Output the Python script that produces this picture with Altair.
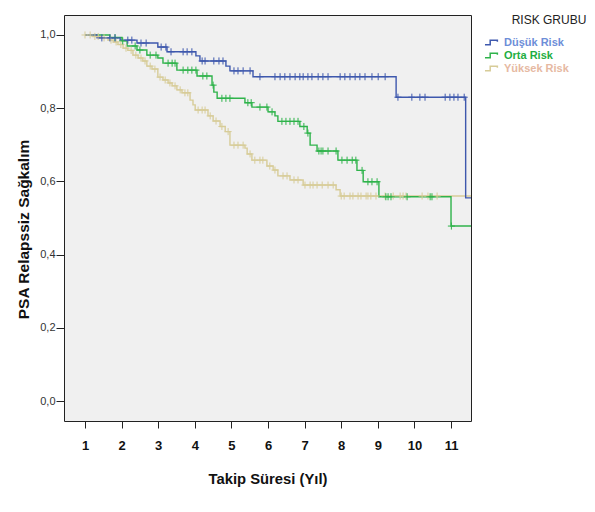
import altair as alt
import pandas as pd

groups = ["Düşük Risk", "Orta Risk", "Yüksek Risk"]
line_colors = ["#3e58ad", "#2fb34b", "#d7cc98"]
label_colors = ["#6d8ed8", "#1eae42", "#e6b9a2"]

x_ticks = [1, 2, 3, 4, 5, 6, 7, 8, 9, 10, 11]
y_ticks = [0.0, 0.2, 0.4, 0.6, 0.8, 1.0]
end_time = 11.55

# Düşük Risk
low_times = [1.0, 1.33, 1.96, 2.42, 2.99, 3.24, 4.03, 4.14, 4.85, 4.96, 5.59, 9.50, 11.40]
low_surv = [1.0, 0.992, 0.986, 0.978, 0.967, 0.954, 0.943, 0.929, 0.915, 0.902, 0.886, 0.830, 0.555]
low_censor = [1.46, 1.68, 1.82, 2.17, 2.28, 2.53, 2.67, 3.08, 3.21, 3.35, 3.68, 3.79, 3.92,
              4.20, 4.28, 4.52, 4.66, 4.77, 5.07, 5.18, 5.32, 5.51, 5.78, 6.19, 6.33, 6.46,
              6.60, 6.74, 6.87, 6.96, 7.09, 7.20, 7.37, 7.50, 7.64, 7.97, 8.10, 8.24, 8.38,
              8.51, 8.65, 8.84, 9.01, 9.20, 9.55, 9.93, 10.15, 10.29, 10.84, 10.97, 11.08,
              11.19, 11.36]

# Orta Risk
mid_times = [1.0, 1.68, 2.01, 2.15, 2.42, 2.69, 2.99, 3.13, 3.51, 4.06, 4.47, 4.52, 4.61,
             5.37, 5.56, 6.00, 6.19, 6.27, 6.87, 7.07, 7.15, 7.34, 7.91, 8.43, 8.60, 9.03, 11.00]
mid_surv = [1.0, 0.993, 0.984, 0.970, 0.959, 0.945, 0.937, 0.923, 0.904, 0.888, 0.863, 0.844,
            0.827, 0.815, 0.803, 0.790, 0.779, 0.764, 0.750, 0.732, 0.699, 0.683, 0.658, 0.630,
            0.599, 0.558, 0.478]
mid_censor = [1.82, 2.03, 2.37, 2.50, 2.78, 2.94, 3.27, 3.38, 3.46, 3.68, 3.81, 3.92, 4.03,
              4.22, 4.33, 4.50, 4.74, 4.85, 4.96, 5.45, 5.54, 5.78, 5.97, 6.11, 6.38, 6.49,
              6.60, 6.71, 6.82, 6.98, 7.09, 7.39, 7.45, 7.50, 7.64, 7.86, 8.02, 8.16, 8.30,
              8.40, 8.57, 8.73, 8.84, 8.98, 9.22, 9.28, 9.36, 9.80, 10.43, 10.48, 11.01]

# Yüksek Risk
high_times = [1.0, 1.22, 1.41, 1.63, 1.77, 1.90, 2.04, 2.17, 2.31, 2.45, 2.58, 2.69, 2.83,
              2.99, 3.13, 3.27, 3.38, 3.51, 3.65, 3.87, 3.95, 4.01, 4.36, 4.50, 4.69, 4.83,
              4.96, 5.37, 5.43, 5.56, 5.97, 6.14, 6.27, 6.60, 6.96, 7.86, 7.97]
high_surv = [1.0, 0.996, 0.992, 0.986, 0.981, 0.974, 0.964, 0.958, 0.945, 0.937, 0.929, 0.915,
             0.907, 0.885, 0.877, 0.869, 0.861, 0.850, 0.842, 0.822, 0.809, 0.795, 0.779, 0.765,
             0.750, 0.736, 0.699, 0.691, 0.675, 0.658, 0.642, 0.631, 0.615, 0.604, 0.590, 0.577,
             0.560]
high_censor = [1.00, 1.14, 1.27, 1.36, 1.52, 1.71, 1.85, 1.98, 2.12, 2.26, 2.39, 2.53, 2.64,
               2.78, 2.91, 3.05, 3.19, 3.32, 3.46, 3.60, 3.73, 3.81, 4.09, 4.20, 4.28, 4.42,
               4.58, 4.74, 4.91, 5.07, 5.18, 5.32, 5.51, 5.64, 5.78, 5.86, 6.05, 6.19, 6.41,
               6.52, 6.71, 6.82, 7.01, 7.15, 7.23, 7.34, 7.48, 7.64, 7.78, 8.00, 8.08, 8.24,
               8.32, 8.46, 8.54, 8.68, 8.73, 8.81, 8.95, 9.20, 9.42, 9.61, 9.69, 9.77, 10.21,
               10.37, 10.62]

series = [
    ("Yüksek Risk", high_times, high_surv, high_censor),
    ("Orta Risk", mid_times, mid_surv, mid_censor),
    ("Düşük Risk", low_times, low_surv, low_censor),
]

line_rows, cens_rows = [], []
for name, ts, ss, cs in series:
    for t, s in zip(ts, ss):
        line_rows.append({"grp": name, "t": t, "s": s})
    line_rows.append({"grp": name, "t": end_time, "s": ss[-1]})
    for c in cs:
        s_at = [s for t, s in zip(ts, ss) if t <= c][-1]
        cens_rows.append({"grp": name, "t": c, "s": s_at})

lines_df = pd.DataFrame(line_rows)
cens_df = pd.DataFrame(cens_rows)

x_scale = alt.Scale(domain=[0.426, 11.546], nice=False, zero=False)
y_scale = alt.Scale(domain=[-0.0546, 1.0546], nice=False, zero=False)
color_scale = alt.Scale(domain=groups, range=line_colors)

x_axis = alt.Axis(values=x_ticks, title="Takip Süresi (Yıl)", grid=False, domain=False,
                  tickSize=7, tickColor="#222", labelFont="Arial", labelFontSize=13,
                  labelFontWeight="bold", labelColor="#111", labelPadding=11,
                  titleFont="Arial", titleFontSize=14.8, titleFontWeight="bold",
                  titleColor="#111", titlePadding=19)
y_axis = alt.Axis(values=y_ticks, labelExpr="replace(format(datum.value, '.1f'), '.', ',')",
                  title="PSA Relapssiz Sağkalım", grid=False, domain=False, tickSize=8,
                  tickColor="#222", labelFont="Arial", labelFontSize=11, labelColor="#333",
                  labelPadding=1, titleFont="Arial", titleFontSize=15.5, titleFontWeight="bold",
                  titleColor="#111", titlePadding=8, titleY=214)

label_expr = ("datum.value === '%s' ? '%s' : datum.value === '%s' ? '%s' : '%s'"
              % (groups[0], label_colors[0], groups[1], label_colors[1], label_colors[2]))

legend = alt.Legend(title=None, orient="none", legendX=420, legendY=20,
                    symbolType="M-1,0.35H-0.2V-0.35H0.9V-0.1", symbolSize=170,
                    symbolStrokeWidth=1.5, symbolFillColor="transparent",
                    labelFont="Arial", labelFontSize=11, labelFontWeight="bold",
                    labelColor=alt.ExprRef(expr=label_expr),
                    labelOffset=5, rowPadding=0, padding=0)

lines = alt.Chart(lines_df).mark_line(interpolate="step-after", strokeWidth=1.4, clip=True).encode(
    x=alt.X("t:Q", scale=x_scale, axis=x_axis),
    y=alt.Y("s:Q", scale=y_scale, axis=y_axis),
    color=alt.Color("grp:N", scale=color_scale, legend=legend),
    detail="grp:N",
)

cens = alt.Chart(cens_df).mark_point(shape="M-1,0H1M0,-1V1", filled=False, size=50,
                                     strokeWidth=1, opacity=1, clip=True).encode(
    x=alt.X("t:Q", scale=x_scale),
    y=alt.Y("s:Q", scale=y_scale),
    color=alt.Color("grp:N", scale=color_scale, legend=None),
)

legend_title = alt.Chart(pd.DataFrame({"txt": ["RISK GRUBU"]})).mark_text(
    font="Arial", fontSize=12, color="#222", align="center", baseline="middle"
).encode(x=alt.value(485), y=alt.value(5), text="txt:N")

chart = alt.layer(lines, cens, legend_title).properties(
    width=407, height=406,
    autosize=alt.AutoSizeParams(type="none"),
    padding={"left": 56, "top": 7, "right": 116, "bottom": 75},
    background="white",
).configure_view(fill="#f0f0f0", stroke="#222", strokeWidth=1)

chart.save("out.html", embed_options={"renderer": "svg", "actions": False})
